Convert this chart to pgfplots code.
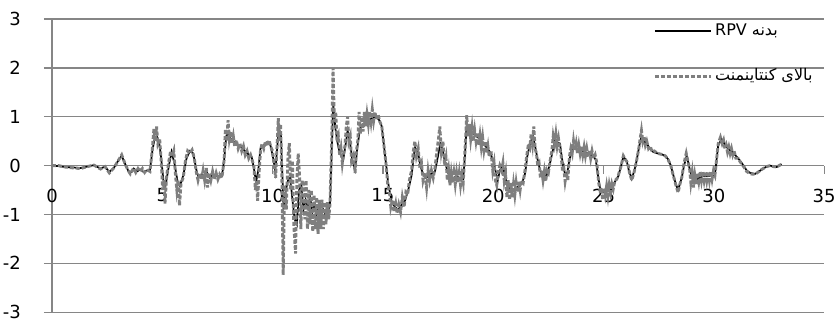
\documentclass[border=0pt]{standalone}
\usepackage{pgfplots}
\pgfplotsset{compat=1.18}
\usepackage{fontspec}
\setmainfont{DejaVu Sans}
\newfontfamily\arabicfont[Script=Arabic]{DejaVu Sans}
\TeXXeTstate=1
\definecolor{gridc}{HTML}{868686}
\definecolor{serc}{HTML}{7F7F7F}
\pgfplotstableread{
x y
0 0
0.3 -0.01
0.6 -0.03
1.0 -0.04
1.3 -0.05
1.6 -0.02
1.9 0.01
2.2 -0.06
2.4 -0.02
2.6 -0.13
2.8 -0.05
3.0 0.1
3.16 0.2
3.3 0.05
3.45 -0.1
3.55 -0.15
3.7 -0.06
3.85 -0.12
4.0 -0.08
4.15 -0.13
4.3 -0.1
4.44 -0.1
4.55 0.3
4.65 0.55
4.75 0.6
4.85 0.5
4.95 0.15
5.05 -0.3
5.15 -0.4
5.3 0.0
5.42 0.28
5.55 0.05
5.7 -0.35
5.8 -0.42
5.95 -0.2
6.1 0.15
6.25 0.3
6.4 0.25
6.55 -0.1
6.65 -0.25
6.8 -0.18
6.9 -0.22
7.0 -0.12
7.15 -0.25
7.3 -0.18
7.5 -0.22
7.7 -0.22
7.8 0.1
7.9 0.6
8.0 0.68
8.1 0.55
8.25 0.48
8.4 0.42
8.55 0.38
8.7 0.32
8.85 0.25
9.05 0.18
9.15 -0.05
9.25 -0.33
9.35 -0.1
9.45 0.35
9.6 0.42
9.75 0.48
9.9 0.42
10.05 0.1
10.12 -0.12
10.2 0.3
10.28 0.78
10.38 0.6
10.45 -0.3
10.5 -0.9
10.6 -0.5
10.7 -0.3
10.8 -0.25
10.9 -0.7
11.0 -1.1
11.1 -1.2
11.2 -0.5
11.3 -0.4
11.4 -0.9
11.5 -0.7
11.6 -0.85
11.7 -0.65
11.8 -0.95
11.9 -0.8
12.0 -1.0
12.1 -0.85
12.2 -1.0
12.3 -0.9
12.4 -1.0
12.5 -0.95
12.6 -0.8
12.68 0.3
12.75 1.25
12.85 0.75
12.95 0.45
13.05 0.25
13.2 0.12
13.3 0.4
13.4 0.72
13.5 0.5
13.62 0.1
13.74 -0.08
13.85 0.4
13.96 0.75
14.1 0.85
14.3 0.92
14.5 0.97
14.7 1.0
14.85 0.92
14.95 0.8
15.05 0.4
15.15 0.0
15.24 -0.36
15.4 -0.75
15.55 -0.85
15.7 -0.9
15.85 -0.8
16.0 -0.72
16.15 -0.5
16.3 -0.2
16.45 0.38
16.6 0.25
16.7 0.0
16.8 -0.15
16.95 -0.25
17.1 -0.2
17.25 -0.15
17.36 -0.12
17.5 0.2
17.6 0.45
17.7 0.35
17.8 0.1
17.95 -0.15
18.05 -0.23
18.2 -0.25
18.35 -0.22
18.5 -0.26
18.64 -0.28
18.72 0.2
18.8 0.85
18.95 0.72
19.1 0.65
19.3 0.58
19.48 0.5
19.65 0.4
19.85 0.28
20.0 0.1
20.08 -0.05
20.2 -0.32
20.3 -0.1
20.44 0.0
20.55 -0.25
20.67 -0.45
20.8 -0.48
20.9 -0.5
21.05 -0.45
21.2 -0.42
21.35 -0.3
21.45 -0.15
21.55 0.2
21.67 0.45
21.8 0.6
21.9 0.4
22.0 0.15
22.1 -0.05
22.2 -0.18
22.3 -0.2
22.42 -0.2
22.55 0.0
22.65 0.2
22.8 0.52
22.9 0.48
23.03 0.45
23.1 0.2
23.17 0.0
23.27 -0.2
23.33 -0.22
23.45 0.1
23.55 0.3
23.7 0.37
23.9 0.33
24.07 0.3
24.3 0.25
24.52 0.2
24.65 0.12
24.75 -0.2
24.84 -0.45
24.98 -0.55
25.15 -0.5
25.3 -0.48
25.44 -0.42
25.55 -0.3
25.67 -0.22
25.8 0.0
25.9 0.18
26.05 0.1
26.15 -0.1
26.28 -0.27
26.4 -0.1
26.5 0.1
26.62 0.4
26.73 0.61
26.85 0.5
26.96 0.45
27.1 0.35
27.25 0.28
27.45 0.25
27.64 0.23
27.8 0.2
27.93 0.13
28.05 0.0
28.15 -0.17
28.28 -0.38
28.38 -0.5
28.48 -0.35
28.55 -0.24
28.65 0.0
28.77 0.2
28.85 0.05
28.92 -0.1
29.05 -0.28
29.15 -0.34
29.25 -0.28
29.37 -0.24
29.5 -0.22
29.7 -0.22
29.9 -0.2
30.05 -0.2
30.12 0.1
30.2 0.42
30.36 0.54
30.48 0.45
30.58 0.38
30.72 0.32
30.87 0.27
31.0 0.2
31.19 0.1
31.35 0.0
31.49 -0.1
31.65 -0.15
31.87 -0.17
32.05 -0.12
32.2 -0.07
32.4 -0.02
32.55 0.0
32.7 -0.02
32.85 -0.03
33.07 0.03
}\rpv
\pgfplotstableread{
x y
0 0
0.3 0.0
0.6 -0.03
1.0 -0.05
1.3 -0.06
1.6 -0.02
1.9 0.01
2.2 -0.07
2.4 -0.02
2.6 -0.15
2.8 -0.05
3.0 0.1
3.16 0.22
3.3 0.05
3.45 -0.1
3.55 -0.17
3.7 -0.05
3.8 -0.14
3.9 -0.06
4.0 -0.12
4.1 -0.06
4.2 -0.14
4.3 -0.08
4.44 -0.12
4.55 0.35
4.62 0.75
4.68 0.5
4.74 0.8
4.8 0.45
4.88 0.55
4.95 0.1
5.02 -0.5
5.08 -0.3
5.12 -0.78
5.2 -0.2
5.3 0.1
5.38 0.3
5.45 0.2
5.52 0.3
5.6 -0.2
5.66 -0.5
5.72 -0.3
5.78 -0.82
5.85 -0.35
5.95 -0.25
6.05 0.1
6.15 0.3
6.25 0.25
6.35 0.32
6.45 0.15
6.55 -0.15
6.62 -0.3
6.7 -0.15
6.78 -0.28
6.85 -0.1
6.92 -0.3
7.0 -0.05
7.05 -0.45
7.12 -0.15
7.2 -0.3
7.28 -0.12
7.36 -0.28
7.44 -0.15
7.52 -0.28
7.6 -0.18
7.7 -0.25
7.8 0.1
7.86 0.75
7.92 0.5
7.98 0.93
8.04 0.55
8.1 0.7
8.16 0.45
8.22 0.6
8.28 0.4
8.36 0.52
8.44 0.35
8.52 0.45
8.6 0.3
8.68 0.4
8.76 0.22
8.84 0.3
8.92 0.15
9.0 0.22
9.08 0.1
9.15 0.0
9.22 -0.5
9.28 -0.3
9.32 -0.72
9.38 -0.2
9.45 0.3
9.52 0.45
9.6 0.35
9.68 0.5
9.76 0.4
9.84 0.52
9.92 0.38
10.0 0.3
10.08 -0.05
10.14 -0.25
10.2 0.4
10.26 0.97
10.3 0.5
10.36 0.85
10.42 -0.2
10.48 -2.24
10.54 -0.4
10.62 -0.9
10.7 0.2
10.76 0.46
10.82 -0.5
10.9 0.1
10.96 -1.2
11.04 -1.8
11.1 -0.3
11.16 0.25
11.22 -0.2
11.28 -1.3
11.34 -0.3
11.4 -0.4
11.46 -1.1
11.52 -0.3
11.58 -1.3
11.64 -0.5
11.7 -1.2
11.76 -0.5
11.82 -1.35
11.88 -0.6
11.94 -1.3
12.0 -0.65
12.06 -1.4
12.12 -0.7
12.18 -1.3
12.24 -0.7
12.3 -1.3
12.36 -0.75
12.42 -1.2
12.48 -0.75
12.54 -1.1
12.6 -0.8
12.68 0.5
12.74 2.0
12.8 0.9
12.86 1.1
12.92 0.5
12.98 0.6
13.04 0.2
13.1 0.35
13.16 0.05
13.22 0.25
13.28 0.4
13.34 0.8
13.4 1.0
13.46 0.5
13.52 0.6
13.58 0.1
13.66 0.2
13.74 -0.15
13.8 0.3
13.86 0.5
13.92 1.1
13.98 0.65
14.04 1.0
14.1 0.7
14.16 1.1
14.22 0.8
14.28 1.05
14.34 0.85
14.4 1.1
14.46 0.9
14.52 1.15
14.58 0.92
14.64 1.1
14.7 0.95
14.78 1.05
14.86 0.9
14.95 0.8
15.05 0.4
15.15 0.0
15.22 -0.4
15.3 -0.55
15.36 -0.85
15.44 -0.7
15.5 -0.95
15.58 -0.78
15.64 -0.98
15.72 -0.8
15.8 -0.95
15.88 -0.65
15.96 -0.85
16.04 -0.55
16.12 -0.6
16.2 -0.3
16.3 -0.1
16.38 0.3
16.45 0.5
16.52 0.2
16.6 0.35
16.68 -0.05
16.75 0.05
16.82 -0.3
16.9 -0.15
16.98 -0.45
17.05 -0.1
17.12 -0.3
17.2 -0.1
17.28 -0.25
17.36 -0.05
17.45 0.3
17.52 0.55
17.58 0.8
17.65 0.3
17.72 0.5
17.8 0.0
17.86 0.15
17.92 -0.3
17.98 -0.1
18.04 -0.4
18.1 -0.15
18.16 -0.35
18.22 -0.15
18.28 -0.38
18.34 -0.15
18.4 -0.35
18.46 -0.15
18.52 -0.4
18.58 -0.2
18.64 -0.35
18.72 0.3
18.8 1.03
18.86 0.6
18.92 0.85
18.98 0.55
19.04 0.78
19.1 0.5
19.16 0.72
19.22 0.5
19.28 0.68
19.34 0.42
19.4 0.62
19.46 0.38
19.52 0.58
19.58 0.32
19.64 0.5
19.7 0.25
19.76 0.4
19.82 0.18
19.9 0.3
19.98 -0.1
20.04 0.05
20.1 -0.3
20.16 -0.4
20.22 -0.15
20.3 0.0
20.38 -0.1
20.44 0.05
20.5 -0.3
20.56 -0.15
20.62 -0.65
20.68 -0.3
20.74 -0.7
20.8 -0.35
20.86 -0.65
20.92 -0.38
20.98 -0.6
21.04 -0.35
21.1 -0.55
21.16 -0.32
21.22 -0.5
21.28 -0.3
21.36 -0.35
21.44 -0.1
21.52 0.2
21.6 0.45
21.66 0.38
21.72 0.65
21.78 0.45
21.84 0.8
21.9 0.35
21.96 0.25
22.02 0.0
22.08 0.05
22.14 -0.25
22.2 -0.1
22.26 -0.3
22.32 -0.12
22.38 -0.32
22.44 -0.1
22.5 -0.15
22.58 0.1
22.66 0.3
22.72 0.6
22.78 0.45
22.84 0.65
22.9 0.4
22.96 0.55
23.02 0.35
23.08 0.2
23.14 -0.1
23.2 -0.05
23.26 -0.32
23.32 -0.15
23.38 -0.3
23.46 0.2
23.52 0.35
23.58 0.25
23.64 0.5
23.7 0.3
23.76 0.45
23.82 0.25
23.88 0.42
23.94 0.25
24.0 0.4
24.06 0.22
24.12 0.38
24.18 0.2
24.24 0.35
24.3 0.18
24.36 0.32
24.42 0.15
24.48 0.3
24.55 0.15
24.62 0.22
24.7 0.05
24.78 -0.35
24.84 -0.5
24.9 -0.45
24.96 -0.7
25.02 -0.45
25.08 -0.6
25.14 -0.42
25.2 -0.62
25.26 -0.4
25.32 -0.55
25.38 -0.38
25.44 -0.48
25.52 -0.3
25.6 -0.28
25.67 -0.2
25.8 0.0
25.9 0.2
26.0 0.12
26.1 0.05
26.18 -0.15
26.28 -0.3
26.38 -0.15
26.5 0.1
26.6 0.35
26.66 0.55
26.72 0.72
26.78 0.5
26.84 0.6
26.9 0.42
26.96 0.5
27.04 0.35
27.12 0.4
27.2 0.28
27.3 0.3
27.45 0.25
27.64 0.23
27.8 0.2
27.93 0.12
28.05 0.0
28.15 -0.18
28.28 -0.4
28.38 -0.55
28.48 -0.35
28.55 -0.24
28.65 0.05
28.75 0.25
28.82 0.1
28.9 -0.05
28.96 -0.35
29.02 -0.15
29.08 -0.45
29.14 -0.2
29.2 -0.38
29.26 -0.15
29.32 -0.32
29.38 -0.12
29.44 -0.3
29.5 -0.12
29.56 -0.3
29.62 -0.12
29.68 -0.3
29.74 -0.12
29.8 -0.3
29.86 -0.12
29.92 -0.28
29.98 -0.12
30.05 -0.2
30.12 0.1
30.2 0.45
30.3 0.58
30.38 0.45
30.44 0.52
30.5 0.35
30.56 0.42
30.62 0.28
30.68 0.38
30.74 0.25
30.8 0.35
30.86 0.22
30.92 0.3
31.0 0.15
31.1 0.15
31.19 0.08
31.35 -0.02
31.49 -0.12
31.65 -0.17
31.87 -0.18
32.05 -0.12
32.2 -0.07
32.4 -0.02
32.55 0.0
32.7 -0.02
32.85 -0.03
33.07 0.03
}\cont
\begin{document}
\begin{tikzpicture}
\begin{axis}[
  scale only axis,
  width=386pt, height=146.5pt,
  xmin=0, xmax=35, ymin=-3, ymax=3,
  axis x line=middle, axis y line=left,
  axis line style={draw=gridc, line width=0.6pt, -},
  hide obscured x ticks=false, hide obscured y ticks=false,
  xtick={0,5,...,35}, xticklabels={0,5,10,15,20,25,30,35},
  ytick={-3,...,3}, yticklabels={-3,-2,-1,0,1,2,3},
  tick align=outside,
  major tick length=4pt,
  tick style={draw=gridc, line width=0.6pt},
  ymajorgrids,
  grid style={draw=gridc, line width=0.6pt},
  tick label style={font=\fontsize{9}{10}\selectfont, text=black},
  xticklabel shift=4pt,
  yticklabel style={anchor=east, xshift=-8pt},
  legend style={draw=none, fill=none, at={(axis description cs:0.7785,0.995)}, anchor=north west,
    font=\fontsize{8}{9}\selectfont, row sep=12pt, inner sep=0pt,
    nodes={inner sep=1.5pt}},
  legend cell align=left,
  legend image code/.code={\draw[#1] (0cm,0cm) -- (0.98cm,0cm);},
  clip=true,
]
\addplot[black, line width=0.85pt] table[x=x,y=y]{\rpv};
\addlegendentry{RPV {\arabicfont\beginR بدنه\endR}}
\addplot[serc, line width=1.45pt, dash pattern=on 2pt off 1pt] table[x=x,y=y]{\cont};
\addlegendentry{{\arabicfont\beginR بالای کنتاینمنت\endR}}
\coordinate (bb1) at (axis cs:-2.357,-3.166);
\coordinate (bb2) at (axis cs:35.63,3.391);
\end{axis}
\pgfresetboundingbox
\useasboundingbox (bb1) rectangle (bb2);
\end{tikzpicture}
\end{document}
